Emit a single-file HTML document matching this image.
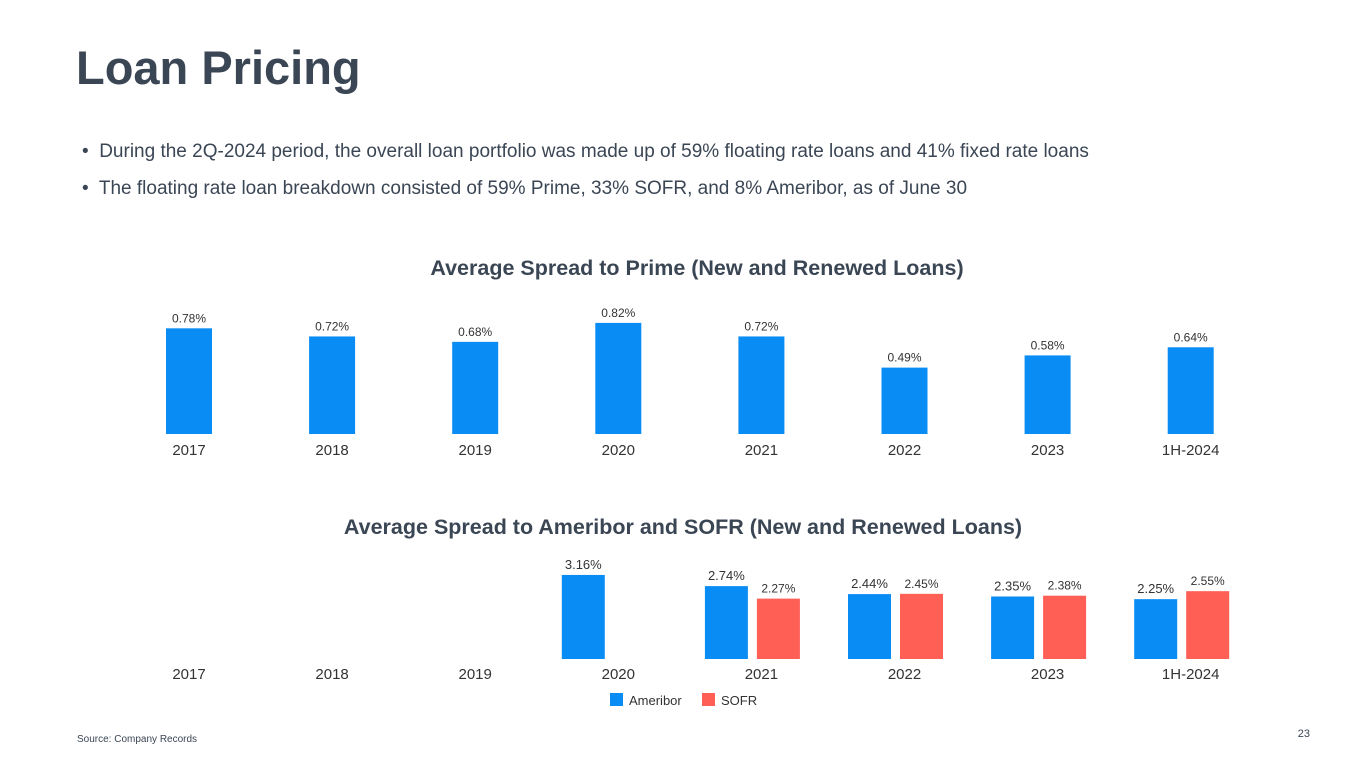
<!DOCTYPE html>
<html><head><meta charset="utf-8">
<style>
body{margin:0;width:1365px;height:768px;background:#fff;font-family:"Liberation Sans",sans-serif;color:#3b4655;overflow:hidden;position:relative}
.t{position:absolute;white-space:nowrap}
</style></head><body>
<div class="t" style="left:76px;top:40px;font-size:47px;font-weight:bold;color:#3b4655">Loan Pricing</div>
<div class="t" style="left:82px;top:141px;font-size:19px">•&nbsp; During the 2Q-2024 period, the overall loan portfolio was made up of 59% floating rate loans and 41% fixed rate loans</div>
<div class="t" style="left:82px;top:178px;font-size:19px">•&nbsp; The floating rate loan breakdown consisted of 59% Prime, 33% SOFR, and 8% Ameribor, as of June 30</div>
<svg id="c" width="1365" height="768" style="position:absolute;left:0;top:0" font-family="Liberation Sans, sans-serif">
<text x="697" y="275" text-anchor="middle" font-size="21.5" font-weight="bold" fill="#3b4655">Average Spread to Prime (New and Renewed Loans)</text>
<text x="683" y="534" text-anchor="middle" font-size="21.5" font-weight="bold" fill="#3b4655">Average Spread to Ameribor and SOFR (New and Renewed Loans)</text>
<rect x="610" y="693" width="13" height="13" fill="#0a8cf5"/>
<text x="629" y="705" font-size="13" fill="#333">Ameribor</text>
<rect x="702" y="693" width="13" height="13" fill="#ff5f55"/>
<text x="721" y="705" font-size="13" fill="#333">SOFR</text>
<text x="77" y="742" font-size="10" fill="#3b4655">Source: Company Records</text>
<text x="1310" y="737" text-anchor="end" font-size="11" fill="#3b4655">23</text>
</svg>
<script>
const categories=["2017","2018","2019","2020","2021","2022","2023","1H-2024"];
const prime=[0.78,0.72,0.68,0.82,0.72,0.49,0.58,0.64];
const ameribor=[null,null,null,3.16,2.74,2.44,2.35,2.25];
const sofr=[null,null,null,null,2.27,2.45,2.38,2.55];
const svg=document.getElementById('c');const NS='http://www.w3.org/2000/svg';
const xc=i=>189+i*143.1;
const y1=v=>434-v*135.5;
const y2=v=>659-v*26.6;
function mk(t,a,txt){const e=document.createElementNS(NS,t);for(const k in a)e.setAttribute(k,a[k]);if(txt!=null)e.textContent=txt;svg.appendChild(e);return e;}
categories.forEach((c,i)=>{
 let e=mk('rect',{x:xc(i)-23,y:y1(prime[i]),width:46,height:434-y1(prime[i]),fill:'#0a8cf5'});
 
 
 e=mk('text',{x:xc(i),y:y1(prime[i])-6,'text-anchor':'middle','font-size':12,fill:'#333'},prime[i].toFixed(2)+'%');
 
 
 e=mk('text',{x:xc(i),y:455,'text-anchor':'middle','font-size':15,fill:'#333'},c);
 
 
 e=mk('text',{x:xc(i),y:679,'text-anchor':'middle','font-size':15,fill:'#333'},c);
 
 
 if(ameribor[i]!=null){
  const cx=xc(i)-35;
  e=mk('rect',{x:cx-21.5,y:y2(ameribor[i]),width:43,height:659-y2(ameribor[i]),fill:'#0a8cf5'});
  
  
  e=mk('text',{x:cx,y:y2(ameribor[i])-6,'text-anchor':'middle','font-size':13,fill:'#333'},ameribor[i].toFixed(2)+'%');
  
  
 }
 if(sofr[i]!=null){
  const cx=xc(i)+17;
  e=mk('rect',{x:cx-21.5,y:y2(sofr[i]),width:43,height:659-y2(sofr[i]),fill:'#ff5f55'});
  
  
  e=mk('text',{x:cx,y:y2(sofr[i])-6,'text-anchor':'middle','font-size':12,fill:'#333'},sofr[i].toFixed(2)+'%');
  
  
 }
});
</script>
</body></html>
